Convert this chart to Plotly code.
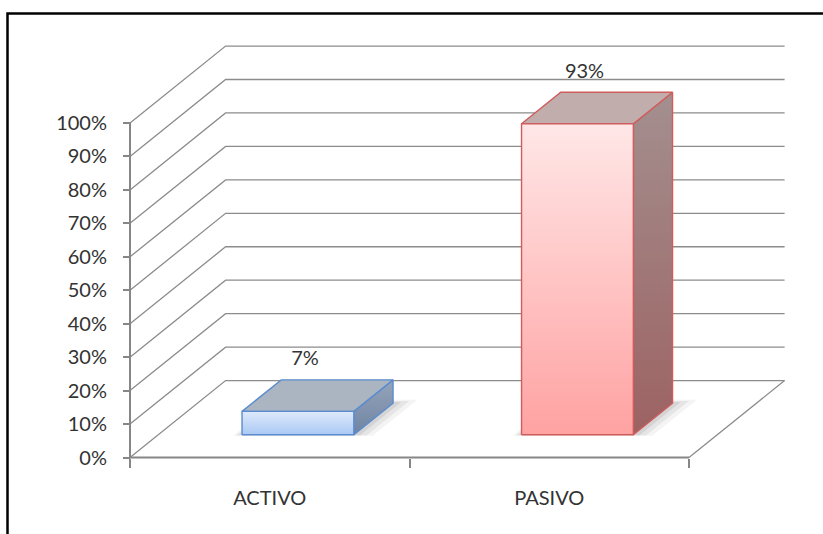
import plotly.graph_objects as go

# ---- data -------------------------------------------------------------
categories = ["ACTIVO", "PASIVO"]
values = [7, 93]
tick_values = [0, 10, 20, 30, 40, 50, 60, 70, 80, 90, 100]
tick_labels = [f"{v}%" for v in tick_values]
value_labels = [f"{v}%" for v in values]

# ---- oblique 3-D projection (data units) ------------------------------
DEPTH_DX = 0.342          # horizontal shift of the back wall, category units
DEPTH_DY = 23.0           # vertical shift of the back wall, percent units
BAR_W = 0.40              # bar width, category units
BAR_D0, BAR_D1 = 0.295, 0.705   # bar front / back depth (0 = front, 1 = back)


def proj(x, y, d):
    return x + d * DEPTH_DX, y + d * DEPTH_DY


# ---- page geometry ----------------------------------------------------
WIDTH, HEIGHT = 823, 534
ORIGIN_X, ORIGIN_Y = 130, 457.5
PX_PER_X, PX_PER_Y = 279.5, 3.345
x_range = [-ORIGIN_X / PX_PER_X, (WIDTH - ORIGIN_X) / PX_PER_X]
y_range = [-(HEIGHT - ORIGIN_Y) / PX_PER_Y, ORIGIN_Y / PX_PER_Y]

GRID = "#8c8c8c"
AXIS = "#868686"
TEXT = "#333333"
FONT = "Lato"

# bar styling
front_top = ["#dfeafb", "#ffe7e7"]
front_bottom = ["#a9c8f4", "#ffa2a2"]
top_face = ["#abb4c1", "#c2adad"]
side_top = ["#95a4ba", "#a48f8f"]
side_bottom = ["#6f84a3", "#9d6262"]
edge = ["#5b8ccf", "#d05c5c"]

n = len(categories)
fig = go.Figure()


def add_path(points, color="rgba(0,0,0,0)", width=1.0, fill=None,
             gradient=None, closed=False):
    pts = [proj(*p) for p in points]
    if closed:
        pts.append(pts[0])
    kw = {}
    if gradient is not None:
        kw["fill"] = "toself"
        kw["fillgradient"] = dict(type="vertical",
                                  colorscale=[[0, gradient[0]], [1, gradient[1]]])
    elif fill is not None:
        kw["fill"] = "toself"
        kw["fillcolor"] = fill
    fig.add_trace(go.Scatter(
        x=[p[0] for p in pts], y=[p[1] for p in pts], mode="lines",
        line=dict(color=color, width=width), hoverinfo="skip", **kw))


# side wall diagonals + back wall gridlines
for t in tick_values:
    add_path([(0, t, 0), (0, t, 1), (n, t, 1)], GRID, 1.3)

# floor: right edge, front edge, vertical axis line
add_path([(n, 0, 0), (n, 0, 1)], GRID, 1.3)
add_path([(0, 0, 0), (n, 0, 0)], AXIS, 2.0)
add_path([(0, 0, 0), (0, tick_values[-1], 0)], AXIS, 2.0)

# bars
for i, v in enumerate(values):
    c = i + 0.5
    x0, x1 = c - BAR_W / 2, c + BAR_W / 2

    # soft floor shadow
    for grow, alpha in [(0.045, 0.05), (0.03, 0.07), (0.015, 0.09)]:
        add_path([(x0 - grow * 0.6, 0, BAR_D0 - grow * 0.3),
                  (x1 + grow * 1.6, 0, BAR_D0 - grow * 0.3),
                  (x1 + grow * 1.6, 0, BAR_D1 + grow),
                  (x0 - grow * 0.6, 0, BAR_D1 + grow)],
                 fill=f"rgba(40,40,40,{alpha})", closed=True)

    # right face
    add_path([(x1, 0, BAR_D0), (x1, 0, BAR_D1), (x1, v, BAR_D1), (x1, v, BAR_D0)],
             edge[i], 1.4, gradient=(side_bottom[i], side_top[i]), closed=True)
    # top face
    add_path([(x0, v, BAR_D0), (x1, v, BAR_D0), (x1, v, BAR_D1), (x0, v, BAR_D1)],
             edge[i], 1.4, fill=top_face[i], closed=True)
    # front face
    add_path([(x0, 0, BAR_D0), (x1, 0, BAR_D0), (x1, v, BAR_D0), (x0, v, BAR_D0)],
             edge[i], 1.4, gradient=(front_bottom[i], front_top[i]), closed=True)

# value labels above each bar
lab_pts = [proj(i + 0.5 - 0.115, v + 5.8, BAR_D1) for i, v in enumerate(values)]
fig.add_trace(go.Scatter(
    x=[p[0] for p in lab_pts], y=[p[1] for p in lab_pts], mode="text",
    text=value_labels, textposition="middle center",
    textfont=dict(family=FONT, size=20, color=TEXT), hoverinfo="skip"))

fig.update_layout(
    width=WIDTH, height=HEIGHT,
    margin=dict(l=0, r=0, t=0, b=0),
    paper_bgcolor="white", plot_bgcolor="white",
    showlegend=False,
    xaxis=dict(
        range=x_range, anchor="free", position=(HEIGHT - ORIGIN_Y) / HEIGHT,
        showgrid=False, zeroline=False, showline=False,
        tickmode="array", tickvals=[i + 0.5 for i in range(n)], ticktext=categories,
        ticks="", ticklabelstandoff=26,
        minor=dict(tickmode="array", tickvals=list(range(n + 1)), ticks="outside",
                   ticklen=9, tickcolor=AXIS, tickwidth=1.5, showgrid=False),
        tickfont=dict(family=FONT, size=20, color=TEXT),
        fixedrange=True,
    ),
    yaxis=dict(
        range=y_range, anchor="free", position=ORIGIN_X / WIDTH,
        showgrid=False, zeroline=False, showline=False,
        tickmode="array", tickvals=tick_values, ticktext=tick_labels,
        ticks="outside", ticklen=7, tickcolor=AXIS, tickwidth=1.5,
        ticklabelstandoff=12,
        tickfont=dict(family=FONT, size=20, color=TEXT),
        fixedrange=True,
    ),
    shapes=[dict(type="rect", xref="paper", yref="paper",
                 x0=7.5 / WIDTH, x1=1.02, y0=-0.05, y1=(HEIGHT - 13.5) / HEIGHT,
                 line=dict(color="black", width=2.5), fillcolor="rgba(0,0,0,0)",
                 layer="above")],
)

fig.write_html("out.html")
